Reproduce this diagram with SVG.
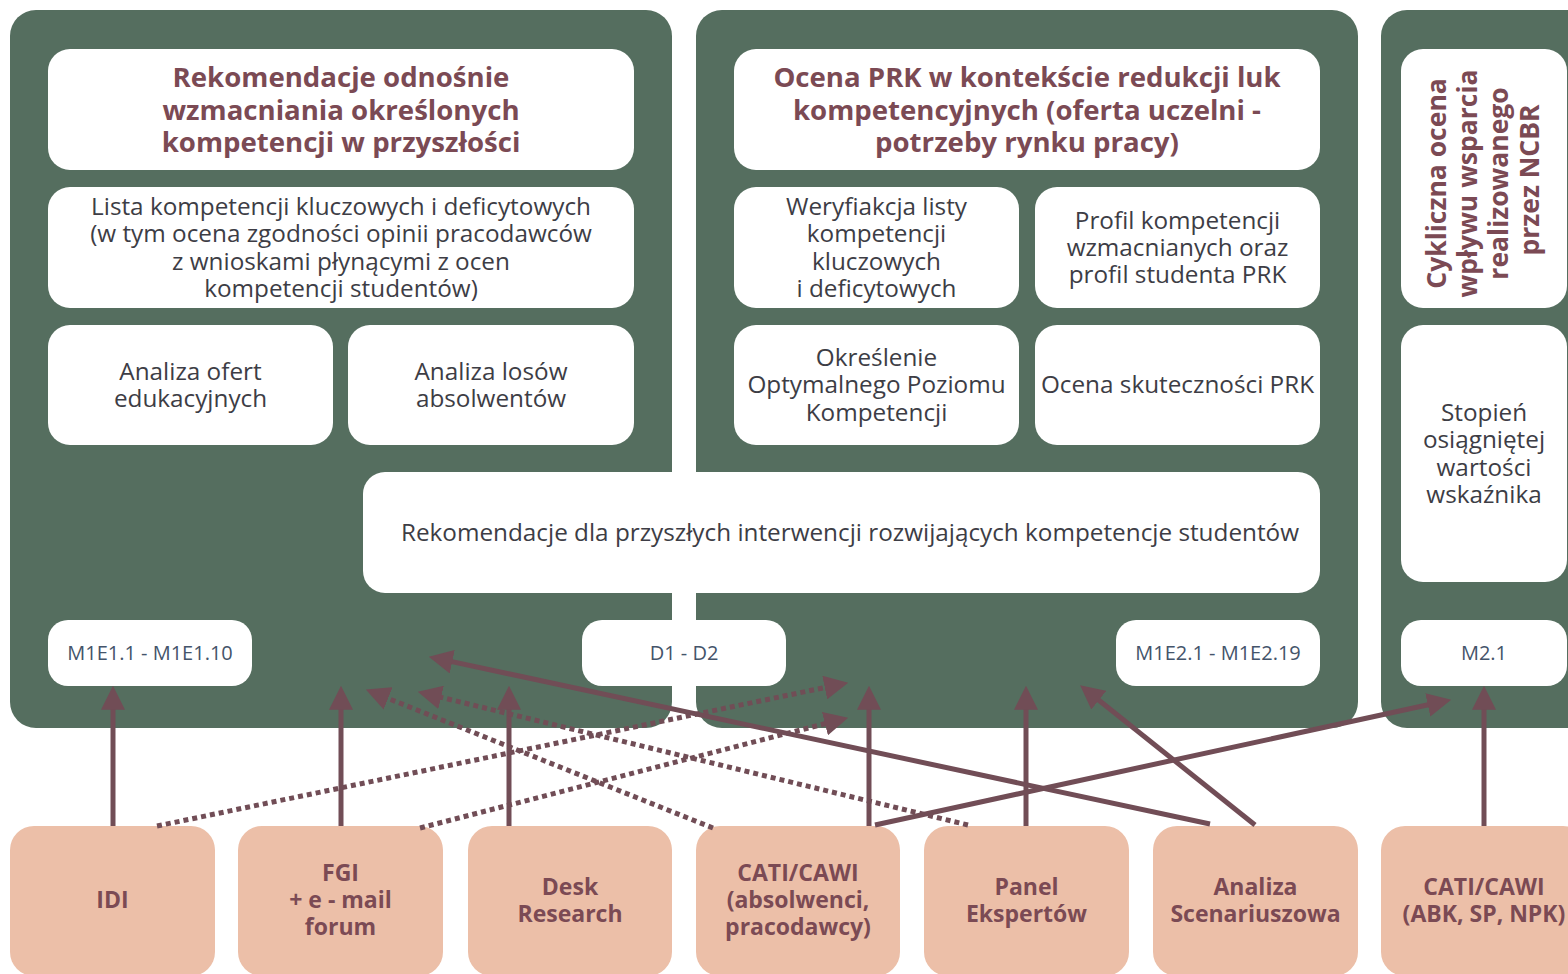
<svg xmlns="http://www.w3.org/2000/svg" width="1568" height="974" viewBox="0 0 1568 974">
<defs>
<style>
.panel{fill:#556e5f}
.box{fill:#ffffff}
.src{fill:#ecbfa8}
.title{font-family:"Open Sans","Liberation Sans",sans-serif;font-weight:700;font-size:27.6px;fill:#7b4a54;text-anchor:middle}
.body{font-family:"Open Sans","Liberation Sans",sans-serif;font-size:24.3px;fill:#3d3d45;text-anchor:middle}
.lbl{font-family:"Open Sans","Liberation Sans",sans-serif;font-size:20px;fill:#44546a;text-anchor:middle}
.srct{font-family:"Open Sans","Liberation Sans",sans-serif;font-weight:700;font-size:23px;fill:#7b4a54;text-anchor:middle}
.rot{font-family:"Open Sans","Liberation Sans",sans-serif;font-weight:700;font-size:26.5px;fill:#7b4a54;text-anchor:middle}
.c{stroke:#714d56;stroke-width:5;fill:none;marker-end:url(#ah)}
.d{stroke-dasharray:5 4}
</style>
<marker id="ah" markerUnits="userSpaceOnUse" markerWidth="24" markerHeight="24" viewBox="0 0 22 22" refX="8" refY="11" orient="auto">
<path d="M0,0 L22,11 L0,22 z" fill="#714d56"/>
</marker>
</defs>
<rect width="1568" height="974" fill="#ffffff"/>

<g id="panel-left"><rect class="panel" x="10" y="10" width="662" height="718" rx="26"/></g>
<g id="panel-middle"><rect class="panel" x="696" y="10" width="662" height="718" rx="26"/></g>
<g id="panel-right"><rect class="panel" x="1381" y="10" width="220" height="718" rx="26"/></g>

<g id="n-title-left">
<rect class="box" x="48" y="49" width="586" height="121" rx="22"/>
<text class="title" x="341" y="87">Rekomendacje odnośnie</text>
<text class="title" x="341" y="119.5">wzmacniania określonych</text>
<text class="title" x="341" y="152">kompetencji w przyszłości</text>
</g>
<g id="n-lista">
<rect class="box" x="48" y="187" width="586" height="121" rx="22"/>
<text class="body" x="341" y="215">Lista kompetencji kluczowych i deficytowych</text>
<text class="body" x="341" y="242.3">(w tym ocena zgodności opinii pracodawców</text>
<text class="body" x="341" y="269.6">z wnioskami płynącymi z ocen</text>
<text class="body" x="341" y="296.9">kompetencji studentów)</text>
</g>
<g id="n-oferty">
<rect class="box" x="48" y="325" width="285" height="120" rx="22"/>
<text class="body" x="190.5" y="380">Analiza ofert</text>
<text class="body" x="190.5" y="407.3">edukacyjnych</text>
</g>
<g id="n-losy">
<rect class="box" x="348" y="325" width="286" height="120" rx="22"/>
<text class="body" x="491" y="380">Analiza losów</text>
<text class="body" x="491" y="407.3">absolwentów</text>
</g>

<g id="n-title-mid">
<rect class="box" x="734" y="49" width="586" height="121" rx="22"/>
<text class="title" x="1027" y="87">Ocena PRK w kontekście redukcji luk</text>
<text class="title" x="1027" y="119.5">kompetencyjnych (oferta uczelni -</text>
<text class="title" x="1027" y="152">potrzeby rynku pracy)</text>
</g>
<g id="n-weryfikacja">
<rect class="box" x="734" y="187" width="285" height="121" rx="22"/>
<text class="body" x="876.5" y="215">Weryfiakcja listy</text>
<text class="body" x="876.5" y="242.3">kompetencji</text>
<text class="body" x="876.5" y="269.6">kluczowych</text>
<text class="body" x="876.5" y="296.9">i deficytowych</text>
</g>
<g id="n-profil">
<rect class="box" x="1035" y="187" width="285" height="121" rx="22"/>
<text class="body" x="1177.5" y="228.6">Profil kompetencji</text>
<text class="body" x="1177.5" y="255.9">wzmacnianych oraz</text>
<text class="body" x="1177.5" y="283.2">profil studenta PRK</text>
</g>
<g id="n-okreslenie">
<rect class="box" x="734" y="325" width="285" height="120" rx="22"/>
<text class="body" x="876.5" y="366">Określenie</text>
<text class="body" x="876.5" y="393.3">Optymalnego Poziomu</text>
<text class="body" x="876.5" y="420.6">Kompetencji</text>
</g>
<g id="n-skutecznosc">
<rect class="box" x="1035" y="325" width="285" height="120" rx="22"/>
<text class="body" x="1177.5" y="393.3">Ocena skuteczności PRK</text>
</g>

<g id="n-rekomendacje">
<rect class="box" x="363" y="472" width="957" height="121" rx="22"/>
<text class="body" x="850" y="541">Rekomendacje dla przyszłych interwencji rozwijających kompetencje studentów</text>
</g>

<g id="n-title-right">
<rect class="box" x="1401" y="49" width="166" height="259" rx="22"/>
<text class="rot" transform="translate(1484,180) rotate(-90)">
<tspan x="0" y="-38">Cykliczna ocena</tspan>
<tspan x="0" y="-7">wpływu wsparcia</tspan>
<tspan x="0" y="24">realizowanego</tspan>
<tspan x="0" y="55">przez NCBR</tspan>
</text>
</g>
<g id="n-stopien">
<rect class="box" x="1401" y="325" width="166" height="257" rx="22"/>
<text class="body" x="1484" y="421">Stopień</text>
<text class="body" x="1484" y="448.3">osiągniętej</text>
<text class="body" x="1484" y="475.6">wartości</text>
<text class="body" x="1484" y="502.9">wskaźnika</text>
</g>

<g id="n-m1e1">
<rect class="box" x="48" y="620" width="204" height="66" rx="20"/>
<text class="lbl" x="150" y="660">M1E1.1 - M1E1.10</text>
</g>
<g id="n-d1d2">
<rect class="box" x="582" y="620" width="204" height="66" rx="20"/>
<text class="lbl" x="684" y="660">D1 - D2</text>
</g>
<g id="n-m1e2">
<rect class="box" x="1116" y="620" width="204" height="66" rx="20"/>
<text class="lbl" x="1218" y="660">M1E2.1 - M1E2.19</text>
</g>
<g id="n-m21">
<rect class="box" x="1401" y="620" width="166" height="66" rx="20"/>
<text class="lbl" x="1484" y="660">M2.1</text>
</g>

<g id="s-idi">
<rect class="src" x="10" y="826" width="205" height="150" rx="24"/>
<text class="srct" x="112.5" y="908">IDI</text>
</g>
<g id="s-fgi">
<rect class="src" x="238" y="826" width="205" height="150" rx="24"/>
<text class="srct" x="340.5" y="881">FGI</text>
<text class="srct" x="340.5" y="908">+ e - mail</text>
<text class="srct" x="340.5" y="935">forum</text>
</g>
<g id="s-desk">
<rect class="src" x="468" y="826" width="204" height="150" rx="24"/>
<text class="srct" x="570" y="894.5">Desk</text>
<text class="srct" x="570" y="921.5">Research</text>
</g>
<g id="s-cati1">
<rect class="src" x="696" y="826" width="204" height="150" rx="24"/>
<text class="srct" x="798" y="881">CATI/CAWI</text>
<text class="srct" x="798" y="908">(absolwenci,</text>
<text class="srct" x="798" y="935">pracodawcy)</text>
</g>
<g id="s-panel">
<rect class="src" x="924" y="826" width="205" height="150" rx="24"/>
<text class="srct" x="1026.5" y="894.5">Panel</text>
<text class="srct" x="1026.5" y="921.5">Ekspertów</text>
</g>
<g id="s-analiza">
<rect class="src" x="1153" y="826" width="205" height="150" rx="24"/>
<text class="srct" x="1255.5" y="894.5">Analiza</text>
<text class="srct" x="1255.5" y="921.5">Scenariuszowa</text>
</g>
<g id="s-cati2">
<rect class="src" x="1381" y="826" width="206" height="150" rx="24"/>
<text class="srct" x="1484" y="894.5">CATI/CAWI</text>
<text class="srct" x="1484" y="921.5">(ABK, SP, NPK)</text>
</g>

<g id="connectors">
<line class="c" x1="113" y1="826" x2="113" y2="701"/>
<line class="c" x1="341" y1="826" x2="341" y2="701"/>
<line class="c" x1="509" y1="826" x2="509" y2="701"/>
<line class="c" x1="869" y1="826" x2="869" y2="701"/>
<line class="c" x1="1026" y1="826" x2="1026" y2="701"/>
<line class="c" x1="1484" y1="826" x2="1484" y2="701"/>
<line class="c" x1="1210" y1="824" x2="443.7" y2="659.9"/>
<line class="c" x1="1255" y1="825" x2="1092" y2="694.7"/>
<line class="c" x1="875" y1="825" x2="1436.3" y2="703"/>
<line class="c d" x1="157" y1="826" x2="833.3" y2="685.8"/>
<line class="c d" x1="420" y1="828" x2="833.4" y2="721.5"/>
<line class="c d" x1="713" y1="828" x2="380" y2="695.2"/>
<line class="c d" x1="968" y1="825" x2="432.6" y2="695.3"/>
</g>
</svg>
